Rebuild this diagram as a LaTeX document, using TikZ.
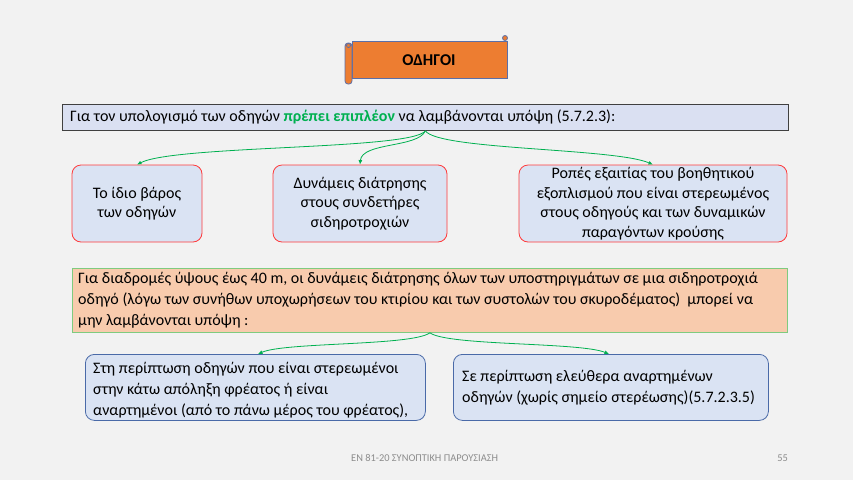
\documentclass[tikz,border=0pt]{standalone}
\usepackage{fontspec}
\setmainfont{Carlito}
\usetikzlibrary{arrows.meta}
\definecolor{bg}{HTML}{F2F2F2}
\definecolor{orng}{HTML}{ED7D31}
\definecolor{scrollline}{HTML}{5B6FA8}
\definecolor{lav}{HTML}{DAE0F2}
\definecolor{boxfill}{HTML}{DAE3F3}
\definecolor{redline}{HTML}{FF3A3A}
\definecolor{grn}{HTML}{00B050}
\definecolor{peach}{HTML}{F8CBAD}
\definecolor{ltgreen}{HTML}{7FCB7F}
\definecolor{blueline}{HTML}{4A6AA8}
\definecolor{foot}{HTML}{8C8C8C}
\tikzset{
  x=1pt, y=-1pt,
  scroll/.style={draw=scrollline, line width=0.8pt, fill=orng},
  topbox/.style={draw=black!75, line width=0.8pt, fill=lav, minimum width=726pt, minimum height=26pt, anchor=north west, inner sep=0pt},
  redbox/.style={draw=redline, line width=0.8pt, fill=boxfill, rounded corners=9pt, minimum height=77pt, align=center, inner sep=0pt, font=\fontsize{16}{19.5}\selectfont},
  peachbox/.style={draw=ltgreen, line width=0.8pt, fill=peach, minimum width=715pt, minimum height=64pt, anchor=north west, inner sep=0pt},
  bluebox/.style={draw=blueline, line width=0.8pt, fill=boxfill, rounded corners=9pt, minimum height=66pt, anchor=north west, inner sep=0pt},
  txt/.style={font=\fontsize{16}{21}\selectfont, align=left, anchor=west, inner sep=0pt},
  conn/.style={draw=grn, line width=0.8pt, -{Latex[length=4.5pt,width=4pt]}},
}
\begin{document}
\begin{tikzpicture}
\useasboundingbox (0,0) rectangle (853,480);
\fill[bg] (0,0) rectangle (853,480);

% scroll banner
\draw[scroll] (352,41) rectangle (507,78);
\draw[scroll, rounded corners=3pt] (345,43) rectangle (352,84);
\draw[scroll] (348.5,45.5) circle (2);
\draw[scroll] (505,38) circle (2.5);
\node[font=\bfseries\fontsize{16.5}{18}\selectfont] (title) at (429,60) {ΟΔΗΓΟΙ};

% top box
\node[topbox] (top) at (62,104) {};
\node[txt] (toptxt) at (70,117) {Για τον υπολογισμό των οδηγών \textcolor{grn}{\bfseries πρέπει επιπλέον} να λαμβάνονται υπόψη (5.7.2.3):};

% three red boxes
\node[redbox, minimum width=130pt] (b1) at (137,203.5) {Το ίδιο βάρος\\των οδηγών};
\node[redbox, minimum width=174pt] (b2) at (360,203.5) {Δυνάμεις διάτρησης\\στους συνδετήρες\\σιδηροτροχιών};
\node[redbox, minimum width=268pt] (b3) at (653,203.5) {Ροπές εξαιτίας του βοηθητικού\\εξοπλισμού που είναι στερεωμένος\\στους οδηγούς και των δυναμικών\\παραγόντων κρούσης};

\draw[conn] (top.south) .. controls (412,150) and (175,145) .. (b1.north);
\draw[conn] (top.south) .. controls (418,148) and (362,142) .. (b2.north);
\draw[conn] (top.south) .. controls (438,150) and (615,148) .. (b3.north);

% peach box
\node[peachbox] (mid) at (72,268) {};
\node[txt] (midtxt) at (78,300) {Για διαδρομές ύψους έως 40 m, οι δυνάμεις διάτρησης όλων των υποστηριγμάτων σε μια σιδηροτροχιά\\οδηγό (λόγω των συνήθων υποχωρήσεων του κτιρίου και των συστολών του σκυροδέματος)\ \ μπορεί να\\μην λαμβάνονται υπόψη :};

% blue boxes
\node[bluebox, minimum width=340pt] (b4) at (85,354) {};
\node[txt] (b4txt) at (93,390) {Στη περίπτωση οδηγών που είναι στερεωμένοι\\στην κάτω απόληξη φρέατος ή είναι\\αναρτημένοι (από το πάνω μέρος του φρέατος),};
\node[bluebox, minimum width=315pt] (b5) at (453,354) {};
\node[txt] (b5txt) at (462,388) {Σε περίπτωση ελεύθερα αναρτημένων\\οδηγών (χωρίς σημείο στερέωσης)(5.7.2.3.5)};

\coordinate (e4) at (258,354);
\coordinate (e5) at (609,354);
\draw[conn] (mid.south) .. controls (412,346) and (285,342) .. (e4);
\draw[conn] (mid.south) .. controls (448,346) and (580,342) .. (e5);

% footer
\node[font=\fontsize{10.4}{12}\selectfont, text=foot, anchor=west, inner sep=0pt] (ft) at (351,458) {ΕΝ 81-20 ΣΥΝΟΠΤΙΚΗ ΠΑΡΟΥΣΙΑΣΗ};
\node[font=\fontsize{10.4}{12}\selectfont, text=foot, anchor=east, inner sep=0pt] (pg) at (788,458) {55};
\end{tikzpicture}
\end{document}
